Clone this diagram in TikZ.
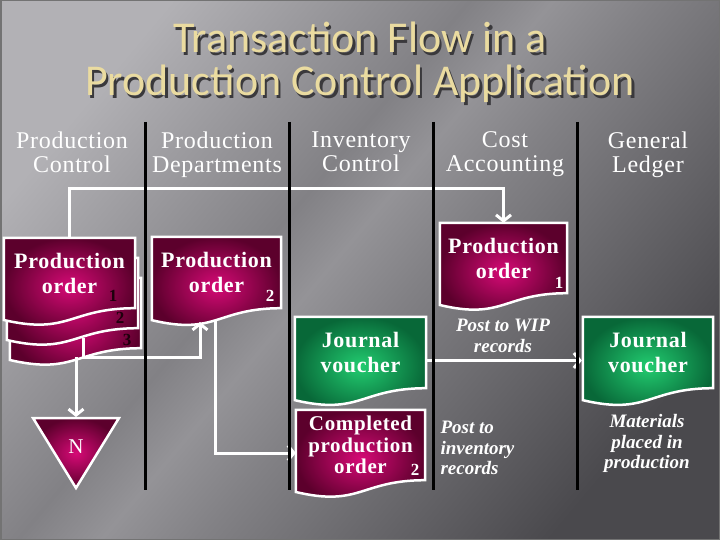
\documentclass[tikz,border=0pt]{standalone}
\usepackage{fontspec}
\setmainfont{Liberation Serif}
\newfontfamily\titlefont{Carlito}
\newfontfamily\spacedfont{Liberation Serif}[LetterSpace=3]
\usetikzlibrary{calc,backgrounds,arrows.meta}

\definecolor{bglight}{RGB}{178,177,181}
\definecolor{bgmid}{RGB}{130,129,133}
\definecolor{bgstreak}{RGB}{148,147,151}
\definecolor{bgdark}{RGB}{74,73,77}
\definecolor{magin}{RGB}{214,10,118}
\definecolor{magout}{RGB}{92,0,44}
\definecolor{grnin}{RGB}{34,204,112}
\definecolor{grnout}{RGB}{8,104,56}
\definecolor{titlegold}{RGB}{234,219,160}
\definecolor{titleshadow}{RGB}{58,57,60}
\definecolor{numdark}{RGB}{30,0,12}

\pgfdeclarehorizontalshading{slideshade}{100bp}{color(0bp)=(bglight); color(25bp)=(bglight);
  color(43bp)=(bgmid); color(48bp)=(bgstreak); color(54bp)=(bgmid); color(75bp)=(bgdark); color(100bp)=(bgdark)}

% outline of a document symbol, taken from the anchors of a node
\newcommand\docpath[1]{(#1.north west) -- (#1.north east) -- (#1.south east)
  .. controls (#1.south) and ($(#1.south)!-0.384!(#1.north)$) .. ($(#1.south west)!-0.1675!(#1.north west)$) -- cycle}

\begin{document}
\begin{tikzpicture}[
	x=1pt, y=-1pt,
	title/.style={font=\titlefont\fontsize{44}{44}\selectfont, anchor=base},
	head/.style={text=white, align=center, anchor=north, font=\spacedfont\fontsize{24}{24.5}\selectfont},
	doc/.style={inner sep=0pt, text=white, align=center, font=\spacedfont\bfseries\fontsize{22}{25}\selectfont},
	magfill/.style={draw=white, line width=2.5pt, shade, inner color=magin, outer color=magout},
	grnfill/.style={draw=white, line width=2.5pt, shade, inner color=grnin, outer color=grnout},
	flow/.style={draw=white, line width=3pt, -{Straight Barb[length=6pt,width=15pt]}},
	lane/.style={black, line width=3pt},
	note/.style={text=white, align=center, font=\bfseries\itshape\fontsize{19}{20.5}\selectfont},
	num/.style={inner sep=0pt, font=\bfseries\fontsize{17}{17}\selectfont}
]
	\useasboundingbox (0,0) rectangle (720,540);

	%% title with its shadow
	\foreach \dx/\col in {2.5/titleshadow, 0/titlegold} {
		\node[title, text=\col] at (360+\dx,53+\dx) {Transaction Flow in a};
		\node[title, text=\col] at (360+\dx,96+\dx) {Production Control Application};
	}

	%% column heads
	\node[head] (hpc) at (72,128)  {Production\\Control};
	\node[head] (hpd) at (217,128) {Production\\Departments};
	\node[head] (hic) at (361,128) {Inventory\\Control};
	\node[head] (hca) at (505,128) {Cost\\Accounting};
	\node[head] (hgl) at (648,128) {General\\Ledger};

	%% production control: stack of orders
	\node[doc, minimum width=131pt, minimum height=70pt] (pc3) at (75.5,313) {};
	\node[doc, minimum width=131pt, minimum height=70pt] (pc2) at (72.5,293) {};
	\node[doc, minimum width=131pt, minimum height=70pt] (pc1) at (69.5,273) {Production\\order};
	\node[num, text=numdark] (pcn1) at (113,296) {1};
	\node[num, text=numdark] (pcn2) at (120,318) {2};
	\node[num, text=numdark] (pcn3) at (127,340) {3};
	\coordinate (pcout)  at (83,338);
	\coordinate (pcdown) at (76,357);

	%% N file
	\node[text=white, font=\fontsize{21}{21}\selectfont] (nfile) at (76,447) {N};

	%% production departments
	\node[doc, minimum width=129pt, minimum height=71pt] (po2) at (216.5,272.5) {Production\\order};
	\node[num, text=white] (po2n) at (270,296) {2};
	\coordinate (po2in)  at (200,322);
	\coordinate (po2out) at (215,320);

	%% inventory control
	\node[doc, minimum width=131pt, minimum height=71pt] (jv1) at (360.5,352.5) {Journal\\voucher};
	\node[doc, minimum width=129pt, minimum height=70pt, font=\spacedfont\bfseries\fontsize{21}{21.5}\selectfont] (cpo) at (360.5,445) {Completed\\production\\order};
	\node[num, text=white] (cpon) at (415,470) {2};

	%% cost accounting
	\node[doc, minimum width=127pt, minimum height=70pt] (po1) at (503.5,258) {Production\\order};
	\node[num, text=white] (po1n) at (559,283) {1};
	\node[note, anchor=north] (wip) at (503,316) {Post to WIP\\records};
	\node[note, anchor=north west, align=left] (inv) at (437,418) {Post to\\inventory\\records};

	%% general ledger
	\node[doc, minimum width=130pt, minimum height=71pt] (jv2) at (648,352.5) {Journal\\voucher};
	\node[note, anchor=north] (mat) at (647,411) {Materials\\placed in\\production};

	%% slide and symbols behind the texts
	\begin{scope}[on background layer]
		\shade[shading=slideshade, shading angle=-40] (0,0) rectangle (720,540);
		\draw[black!55, line width=1.5pt] (0.75,0.75) rectangle (719.25,539.25);
		\foreach \d in {pc3,pc2,pc1,po2,cpo,po1} {
			\path[magfill] \docpath{\d};
		}
		\path[grnfill] \docpath{jv1};
		\path[grnfill] \docpath{jv2};
		\path[magfill] ($(nfile)+(-43,-29)$) -- ($(nfile)+(43,-29)$) -- ($(nfile)+(0,41)$) -- cycle;
	\end{scope}

	%% connectors
	\draw[flow] (pc1.north) |- ([yshift=34pt]po1.north) -- (po1.north);
	\draw[flow] (pcout) -- ++(0,19) -| (po2in);
	\draw[flow] (pcdown) -- ([yshift=30pt]nfile.center);
	\draw[flow] (po2out) |- ([yshift=-8pt]cpo.west);
	\draw[flow] ([yshift=-8pt]jv1.east) -- ([yshift=-8pt, xshift=-1pt]jv2.west);

	%% lanes
	\foreach \x in {145,289,433,577}
		\draw[lane] (\x,122) -- (\x,490);
\end{tikzpicture}
\end{document}
